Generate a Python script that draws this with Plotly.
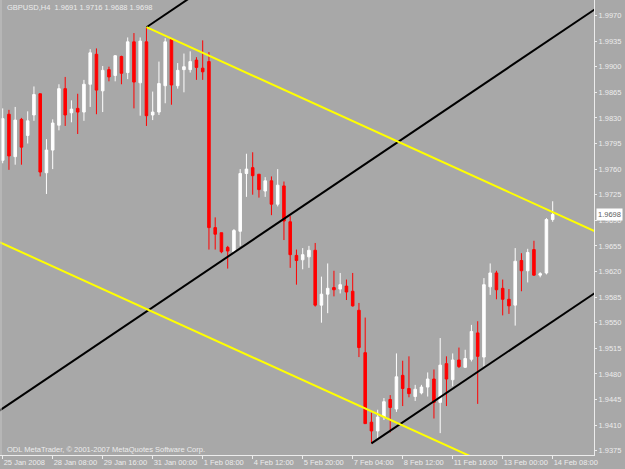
import plotly.graph_objects as go

# ---- data (GBPUSD H4) ----
bars = list(range(89))
opens = [1.9772,1.9835,1.9777,1.9828,1.9806,1.9834,1.9863,1.9755,1.9786,1.9820,
         1.9870,1.9837,1.9843,1.9838,1.9876,1.9917,1.9867,1.9896,1.9888,1.9914,
         1.9892,1.9934,1.9878,1.9934,1.9834,1.9838,1.9874,1.9937,1.9874,1.9896,
         1.9896,1.9909,1.9898,1.9907,1.9680,1.9673,1.9653,1.9647,1.9675,1.9754,
         1.9762,1.9753,1.9730,1.9744,1.9712,1.9737,1.9688,1.9642,1.9636,1.9640,
         1.9649,1.9574,1.9589,1.9598,1.9596,1.9600,1.9593,1.9567,1.9509,1.9414,
         1.9402,1.9421,1.9445,1.9432,1.9478,1.9460,1.9449,1.9454,1.9462,1.9473,
         1.9441,1.9494,1.9472,1.9499,1.9489,1.9500,1.9536,1.9503,1.9599,1.9618,
         1.9597,1.9582,1.9574,1.9635,1.9621,1.9650,1.9615,1.9618,1.9691]
highs = [1.9843,1.9841,1.9845,1.9830,1.9839,1.9873,1.9863,1.9801,1.9828,1.9876,
         1.9886,1.9854,1.9863,1.9882,1.9924,1.9925,1.9901,1.9900,1.9916,1.9915,
         1.9940,1.9946,1.9940,1.9954,1.9866,1.9907,1.9939,1.9939,1.9905,1.9918,
         1.9921,1.9913,1.9936,1.9920,1.9694,1.9673,1.9655,1.9678,1.9760,1.9781,
         1.9783,1.9753,1.9749,1.9750,1.9760,1.9743,1.9696,1.9650,1.9652,1.9655,
         1.9659,1.9613,1.9631,1.9621,1.9618,1.9609,1.9618,1.9577,1.9557,1.9427,
         1.9431,1.9447,1.9451,1.9508,1.9498,1.9504,1.9465,1.9465,1.9482,1.9486,
         1.9529,1.9504,1.9508,1.9516,1.9513,1.9547,1.9552,1.9611,1.9631,1.9621,
         1.9609,1.9596,1.9652,1.9645,1.9651,1.9662,1.9619,1.9693,1.9716]
lows = [1.9768,1.9759,1.9766,1.9766,1.9795,1.9826,1.9750,1.9726,1.9760,1.9813,
        1.9819,1.9824,1.9808,1.9826,1.9845,1.9835,1.9838,1.9880,1.9880,1.9876,
        1.9883,1.9843,1.9833,1.9819,1.9827,1.9834,1.9850,1.9848,1.9870,1.9865,
        1.9892,1.9882,1.9882,1.9650,1.9650,1.9645,1.9624,1.9645,1.9655,1.9722,
        1.9725,1.9721,1.9722,1.9697,1.9709,1.9663,1.9625,1.9602,1.9623,1.9625,
        1.9572,1.9550,1.9563,1.9586,1.9590,1.9581,1.9572,1.9503,1.9412,1.9385,
        1.9392,1.9417,1.9400,1.9428,1.9436,1.9448,1.9443,1.9452,1.9449,1.9419,
        1.9399,1.9436,1.9463,1.9488,1.9488,1.9497,1.9439,1.9490,1.9588,1.9582,
        1.9560,1.9562,1.9546,1.9593,1.9605,1.9614,1.9612,1.9616,1.9688]
closes = [1.9829,1.9778,1.9827,1.9790,1.9826,1.9862,1.9756,1.9786,1.9823,1.9870,
          1.9834,1.9842,1.9838,1.9876,1.9919,1.9868,1.9895,1.9886,1.9915,1.9891,
          1.9934,1.9879,1.9935,1.9833,1.9838,1.9877,1.9934,1.9875,1.9895,1.9900,
          1.9907,1.9899,1.9893,1.9680,1.9671,1.9647,1.9648,1.9676,1.9754,1.9760,
          1.9751,1.9732,1.9744,1.9712,1.9738,1.9689,1.9643,1.9635,1.9643,1.9649,
          1.9574,1.9589,1.9597,1.9595,1.9602,1.9592,1.9573,1.9516,1.9412,1.9402,
          1.9421,1.9442,1.9434,1.9476,1.9460,1.9453,1.9459,1.9462,1.9473,1.9441,
          1.9492,1.9473,1.9499,1.9490,1.9501,1.9538,1.9504,1.9602,1.9618,1.9595,
          1.9582,1.9573,1.9634,1.9621,1.9646,1.9615,1.9617,1.9691,1.9698]

x_tick_bars = [0, 8, 16, 24, 32, 40, 48, 56, 64, 72, 80, 88]
x_tick_labels = ["25 Jan 2008", "28 Jan 08:00", "29 Jan 16:00", "31 Jan 00:00",
                 "1 Feb 08:00", "4 Feb 12:00", "5 Feb 20:00", "7 Feb 04:00",
                 "8 Feb 12:00", "11 Feb 16:00", "13 Feb 00:00", "14 Feb 08:00"]
y_ticks = [1.9375, 1.9410, 1.9445, 1.9480, 1.9515, 1.9550, 1.9585, 1.9620, 1.9655,
           1.9690, 1.9725, 1.9760, 1.9795, 1.9830, 1.9865, 1.9900, 1.9935, 1.9970]
y_tick_labels = ["%.4f" % v for v in y_ticks]

# channel lines (bar index, price)
black_line_a_x = [23, 95]
black_line_a_y = [1.9954, 2.0369]
black_line_b_x = [-1, 95]
black_line_b_y = [1.9427, 1.9980]
black_line_c_x = [59, 95]
black_line_c_y = [1.9385, 1.9592]
yellow_line_a_x = [23, 95]
yellow_line_a_y = [1.9954, 1.9674]
yellow_line_b_x = [-1, 95]
yellow_line_b_y = [1.9662, 1.9289]

symbol_title = "GBPUSD,H4\u00a0 1.9691 1.9716 1.9688 1.9698"
last_price = 1.9698

BG = "#a8a8a8"
FG = "#ececec"
FONT = "Liberation Sans, Arial, sans-serif"

fig = go.Figure()
fig.add_trace(go.Candlestick(
    x=bars, open=opens, high=highs, low=lows, close=closes,
    increasing=dict(line=dict(color="#ffffff", width=1), fillcolor="#ffffff"),
    decreasing=dict(line=dict(color="#ff0000", width=1), fillcolor="#ff0000"),
    whiskerwidth=0, hoverinfo="skip", showlegend=False))

for xs, ys, col in [(black_line_a_x, black_line_a_y, "#000000"),
                    (black_line_b_x, black_line_b_y, "#000000"),
                    (black_line_c_x, black_line_c_y, "#000000"),
                    (yellow_line_a_x, yellow_line_a_y, "#ffff00"),
                    (yellow_line_b_x, yellow_line_b_y, "#ffff00")]:
    fig.add_trace(go.Scatter(x=xs, y=ys, mode="lines",
                             line=dict(color=col, width=2),
                             hoverinfo="skip", showlegend=False))

fig.update_layout(
    width=625, height=469,
    margin=dict(l=0, r=31, t=0, b=14),
    paper_bgcolor=BG, plot_bgcolor=BG,
    font=dict(family=FONT, size=7.5, color=FG),
    boxgap=0.42,
    showlegend=False,
    xaxis=dict(range=[-0.432, 94.61], showgrid=False, zeroline=False,
               showline=True, linecolor=FG, linewidth=1,
               ticks="outside", ticklen=3, tickcolor=FG, tickwidth=1,
               tickmode="array", tickvals=x_tick_bars, ticktext=x_tick_labels,
               ticklabelposition="outside right", tickangle=0,
               tickfont=dict(family=FONT, size=7.5, color=FG),
               rangeslider=dict(visible=False), fixedrange=True),
    yaxis=dict(range=[1.93691, 1.99912], side="right", showgrid=False,
               zeroline=False, showline=True, linecolor=FG, linewidth=1,
               ticks="outside", ticklen=2, tickcolor=FG, tickwidth=1,
               tickmode="array", tickvals=y_ticks, ticktext=y_tick_labels,
               tickfont=dict(family=FONT, size=7.5, color=FG), fixedrange=True),
    shapes=[dict(type="line", xref="paper", yref="paper", x0=0.0017, x1=0.0017,
                 y0=0, y1=1, line=dict(color="#c4c4c4", width=1))],
    annotations=[
        dict(text=symbol_title, xref="paper", yref="paper", x=0.0084, y=0.9835,
             xanchor="left", yanchor="middle", showarrow=False,
             font=dict(family=FONT, size=7.5, color=FG)),
        dict(text="ODL MetaTrader, \u00a9 2001-2007 MetaQuotes Software Corp.",
             xref="paper", yref="paper", x=0.0084, y=0.0125,
             xanchor="left", yanchor="middle", showarrow=False,
             font=dict(family=FONT, size=7.5, color=FG)),
        dict(text="%.4f" % last_price, xref="paper", yref="y", x=1.0034,
             y=last_price, xanchor="left", yanchor="middle", showarrow=False,
             bgcolor="#ffffff", borderpad=1,
             font=dict(family=FONT, size=7.5, color="#606060")),
    ],
)

fig.write_html("out.html")
